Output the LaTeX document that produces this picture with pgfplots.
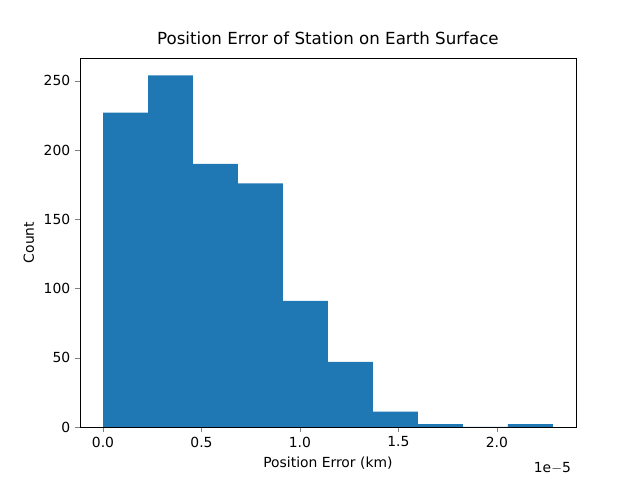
\documentclass[border=0pt]{standalone}
\usepackage{pgfplots}
\pgfplotsset{compat=1.18}
\usepackage{fontspec}
\setmainfont{DejaVu Sans}
\definecolor{mblue}{HTML}{1F77B4}
\begin{document}
\begin{tikzpicture}
\path (-57.6pt,-38.2pt) rectangle (403.2pt,307.4pt);
\begin{axis}[at={(0,0)},anchor=south west,scale only axis,width=357pt,height=265.7pt,
 xmin=-0.117,xmax=2.401,ymin=0,ymax=266.6,
 xtick={0,0.5,1,1.5,2},xticklabels={0.0,0.5,1.0,1.5,2.0},
 ytick={0,50,100,150,200,250},
 tick align=outside,tick pos=lower,major tick length=3.5pt,
 tick label style={font=\fontsize{10}{12}\selectfont},
 /pgf/number format/assume math mode=true,
 xlabel={Position Error (km)},ylabel={Count},
 label style={font=\fontsize{10}{12}\selectfont},
 title={Position Error of Station on Earth Surface},
 title style={font=\fontsize{12}{14}\selectfont},
 clip=false]
\addplot[ybar interval,fill=mblue,draw=none] coordinates {
(0,227)(0.2284,254)(0.4568,190)(0.6852,176)(0.9136,91)(1.142,47)(1.3704,11)(1.5988,2)(1.8272,0)(2.0556,2)(2.284,2)};
\node[anchor=north east,font=\fontsize{10}{12}\selectfont] at (axis cs:2.401,-22) {1e$-$5};
\end{axis}
\end{tikzpicture}
\end{document}
